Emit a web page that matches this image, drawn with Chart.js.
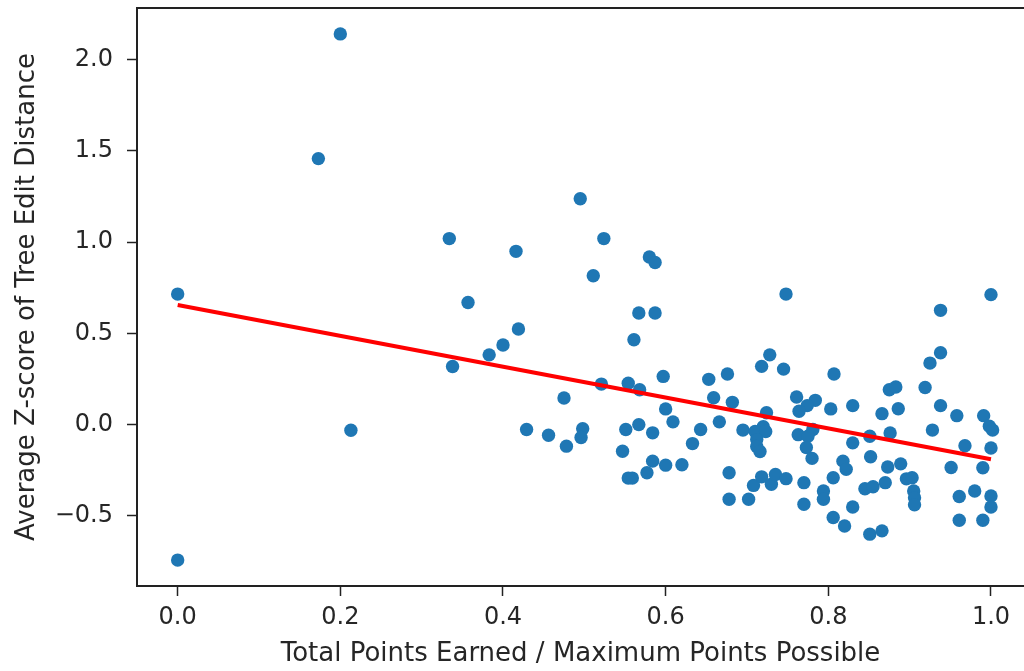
<!DOCTYPE html>
<html>
<head>
<meta charset="utf-8">
<script src="https://cdn.jsdelivr.net/npm/chart.js@4.4.1/dist/chart.umd.min.js"></script>
<style>
  html, body { margin: 0; padding: 0; background: #fff; overflow: hidden; }
  #wrap { width: 1024px; height: 671px; position: relative; }
</style>
</head>
<body>
<div id="wrap"><canvas id="c" width="1024" height="671"></canvas></div>
<script>
// ---- data ----
const xValues = [
  0.000, 0.000, 0.173, 0.200, 0.213, 0.334, 0.338, 0.357, 0.383, 0.400,
  0.416, 0.419, 0.429, 0.456, 0.475, 0.478, 0.495, 0.498, 0.496, 0.511,
  0.524, 0.521, 0.547, 0.551, 0.554, 0.554, 0.559, 0.561, 0.567, 0.567,
  0.568, 0.577, 0.580, 0.584, 0.584, 0.587, 0.587, 0.597, 0.600, 0.600,
  0.609, 0.620, 0.633, 0.643, 0.653, 0.659, 0.666, 0.676, 0.682, 0.678,
  0.678, 0.695, 0.702, 0.708, 0.718, 0.718, 0.728, 0.745, 0.748, 0.724,
  0.720, 0.710, 0.723, 0.712, 0.712, 0.716, 0.730, 0.735, 0.748, 0.761,
  0.784, 0.774, 0.764, 0.763, 0.781, 0.775, 0.773, 0.780, 0.770, 0.770,
  0.794, 0.794, 0.803, 0.807, 0.806, 0.806, 0.820, 0.818, 0.822, 0.830,
  0.830, 0.830, 0.851, 0.852, 0.845, 0.855, 0.870, 0.851, 0.866, 0.866,
  0.875, 0.883, 0.886, 0.876, 0.873, 0.889, 0.896, 0.903, 0.905, 0.906,
  0.906, 0.919, 0.925, 0.928, 0.938, 0.938, 0.938, 0.951, 0.958, 0.961,
  0.961, 0.968, 0.980, 0.990, 0.990, 0.991, 0.998, 1.002, 1.000, 1.000,
  1.000, 1.000
];
const yValues = [
   0.715, -0.742,  1.457,  2.140, -0.031,  1.019,  0.318,  0.669,  0.382,  0.436,
   0.949,  0.524, -0.027, -0.058,  0.146, -0.118,  1.237, -0.023, -0.071,  0.815,
   1.019,  0.222, -0.146, -0.027,  0.227, -0.293, -0.293,  0.465,  0.611,  0.000,
   0.191, -0.264,  0.918, -0.045, -0.200,  0.888,  0.611,  0.264,  0.086, -0.222,
   0.015, -0.220, -0.104, -0.027,  0.248,  0.147,  0.015,  0.277,  0.122, -0.264,
  -0.409, -0.030, -0.409, -0.333, -0.286,  0.319,  0.382,  0.304,  0.715,  0.065,
  -0.011, -0.038, -0.038, -0.082, -0.120, -0.147, -0.327, -0.273, -0.296,  0.151,
   0.133,  0.104,  0.073, -0.055, -0.027, -0.064, -0.125, -0.185, -0.318, -0.436,
  -0.364, -0.409,  0.086,  0.277, -0.291, -0.509, -0.555, -0.200, -0.245,  0.104,
  -0.100, -0.451, -0.064, -0.176, -0.351, -0.340, -0.318, -0.600, -0.582,  0.060,
   0.191,  0.206,  0.087, -0.046, -0.232, -0.215, -0.297, -0.291, -0.363, -0.400,
  -0.439,  0.203,  0.337, -0.030,  0.626,  0.394,  0.104, -0.235,  0.049, -0.394,
  -0.524, -0.116, -0.364, -0.236, -0.524,  0.049, -0.009, -0.030, -0.128, -0.391,
  -0.451,  0.712
];
// fitted trend line (endpoints)
const fitX = [0.0, 1.0];
const fitY = [0.655, -0.190];

const xTicks = [0.0, 0.2, 0.4, 0.6, 0.8, 1.0];
const yTicks = [-0.5, 0.0, 0.5, 1.0, 1.5, 2.0];

const xTitle = 'Total Points Earned / Maximum Points Possible';
const yTitle = 'Average Z-score of Tree Edit Distance';

// ---- build chart ----
const scatterData = xValues.map((x, i) => ({ x: x, y: yValues[i] }));
const lineData = fitX.map((x, i) => ({ x: x, y: fitY[i] }));

const fmt = v => (v < 0 ? '\u2212' : '') + Math.abs(v).toFixed(1);
const tickFont = { family: 'DejaVu Sans', size: 24 };
const titleFont = { family: 'DejaVu Sans', size: 26 };
const textColor = '#262626';

const topSpine = {
  id: 'topSpine',
  afterDraw(chart) {
    const { ctx, chartArea } = chart;
    ctx.save();
    ctx.strokeStyle = '#222';
    ctx.lineWidth = 2;
    ctx.beginPath();
    ctx.moveTo(chartArea.left - 1, chartArea.top);
    ctx.lineTo(chartArea.right, chartArea.top);
    ctx.stroke();
    ctx.restore();
  }
};

new Chart(document.getElementById('c'), {
  type: 'scatter',
  data: {
    datasets: [
      {
        type: 'line',
        data: lineData,
        borderColor: '#ff0000',
        borderWidth: 4,
        pointRadius: 0,
        fill: false,
        tension: 0
      },
      {
        type: 'scatter',
        data: scatterData,
        backgroundColor: '#1f77b4',
        borderColor: '#1f77b4',
        borderWidth: 0,
        pointRadius: 6.7,
        pointHoverRadius: 6.7
      }
    ]
  },
  plugins: [topSpine],
  options: {
    responsive: false,
    animation: false,
    devicePixelRatio: 1,
    layout: { autoPadding: false, padding: { top: 8, right: 0, bottom: 0, left: 0 } },
    plugins: { legend: { display: false }, tooltip: { enabled: false } },
    scales: {
      x: {
        type: 'linear',
        min: -0.05,
        max: 1.0406,
        afterBuildTicks: s => { s.ticks = xTicks.map(v => ({ value: v })); },
        afterFit: s => { s.height = 85; s.paddingLeft = 0; s.paddingRight = 0; },
        ticks: { callback: fmt, font: tickFont, color: textColor, padding: 7, maxRotation: 0 },
        grid: { display: true, drawOnChartArea: false, drawTicks: true, tickLength: 10, tickColor: '#222', tickWidth: 1.5 },
        border: { display: true, color: '#222', width: 2 },
        title: { display: true, text: xTitle, font: titleFont, color: textColor, padding: { top: 0, bottom: 1 } }
      },
      y: {
        type: 'linear',
        min: -0.884,
        max: 2.282,
        afterBuildTicks: s => { s.ticks = yTicks.map(v => ({ value: v })); },
        afterFit: s => { s.width = 137; s.paddingTop = 0; s.paddingBottom = 0; },
        ticks: { callback: fmt, font: tickFont, color: textColor, padding: 14 },
        grid: { display: true, drawOnChartArea: false, drawTicks: true, tickLength: 10, tickColor: '#222', tickWidth: 1.5 },
        border: { display: true, color: '#222', width: 2 },
        title: { display: true, text: yTitle, font: titleFont, color: textColor, padding: { top: 12, bottom: 0 } }
      }
    }
  }
});
</script>
</body>
</html>
